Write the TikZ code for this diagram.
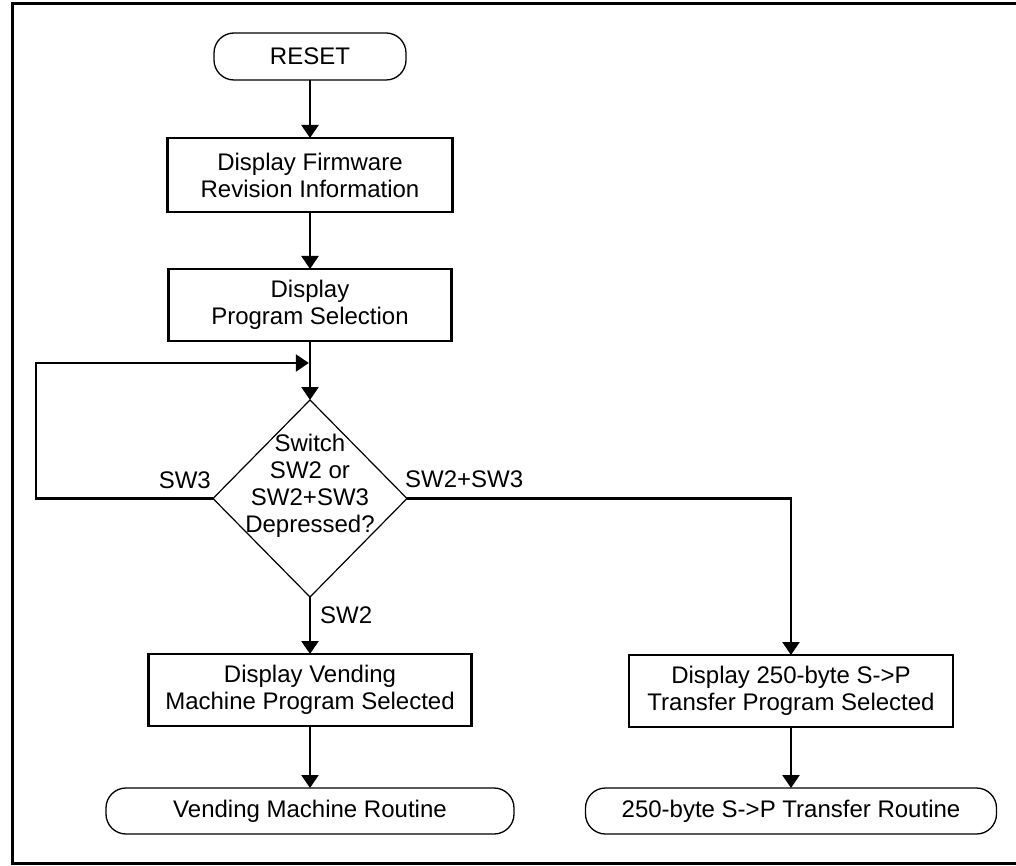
\documentclass[tikz,border=0pt]{standalone}
\usepackage{fontspec}
\setmainfont{Liberation Sans}
\usetikzlibrary{arrows.meta,shapes.geometric}
\begin{document}
\begin{tikzpicture}[x=1pt,y=-1pt,
  every node/.style={font=\fontsize{24}{27}\selectfont},
  procbox/.style={draw, line width=2.8pt, rectangle, align=center, inner sep=0pt, outer sep=0pt},
  term/.style={draw, line width=1.3pt, rectangle, rounded corners=20pt, align=center, inner sep=0pt, outer sep=0pt},
  decision/.style={draw, line width=1.2pt, diamond, inner sep=0pt, outer sep=0pt},
  conn/.style={line width=2.4pt, -{Triangle[width=17pt,length=13pt]}},
  lbl/.style={inner sep=0pt}
]
\useasboundingbox (0,0) rectangle (1016,866);
\draw[line width=3pt] (1016,4) -- (12,4) -- (12,863) -- (1016,863);

\node[term, minimum width=192pt, minimum height=47pt] (reset) at (310,56.5) {RESET};
\node[procbox, minimum width=285pt, minimum height=74pt] (fw) at (310,175) {Display Firmware\\Revision Information};
\node[procbox, minimum width=283pt, minimum height=72pt] (ps) at (310,305) {Display\\Program Selection};
\node[decision, minimum width=194pt, minimum height=197pt] (dec) at (310,498.5) {};
\node[align=center, inner sep=0pt] (dectext) at (310,486) {Switch\\SW2 or\\SW2+SW3\\Depressed?};
\node[procbox, minimum width=323pt, minimum height=72pt] (vm) at (310,690) {Display Vending\\Machine Program Selected};
\node[procbox, minimum width=324pt, minimum height=72pt] (sp) at (791,691) {Display 250-byte S->P\\Transfer Program Selected};
\node[term, minimum width=408pt, minimum height=46pt] (vmr) at (310,811) {Vending Machine Routine};
\node[term, minimum width=411pt, minimum height=46pt] (spr) at (791,811) {250-byte S->P Transfer Routine};

\node[lbl, anchor=base east] (l3) at (211,488) {SW3};
\node[lbl, anchor=base west] (l23) at (405,487) {SW2+SW3};
\node[lbl, anchor=base west] (l2) at (320,623) {SW2};

\coordinate (loopL) at (36,498.5);
\coordinate (loopT) at (36,363);
\coordinate (loopE) at (308.8,363);

\draw[conn] (reset) -- (fw);
\draw[conn] (fw) -- (ps);
\draw[conn] (ps) -- (dec);
\draw[conn] (dec.west) -- (loopL) -- (loopT) -- (loopE);
\draw[conn] (dec.south) -- (vm.north);
\draw[conn] (dec.east) -| (sp.north);
\draw[conn] (vm) -- (vmr);
\draw[conn] (sp) -- (spr);
\end{tikzpicture}
\end{document}
